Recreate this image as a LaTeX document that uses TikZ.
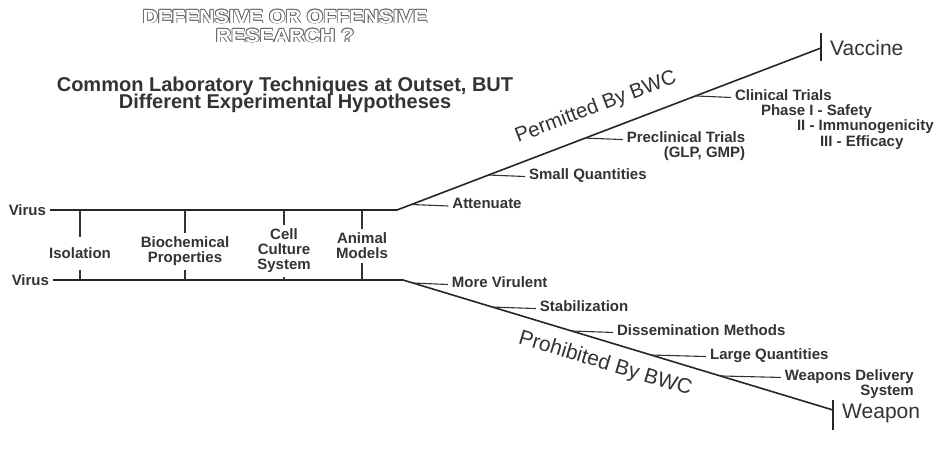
\documentclass[tikz,border=0pt]{standalone}
\usepackage{fontspec}
\setmainfont{Liberation Sans}
\newfontfamily\outlinefont[FakeStretch=1.12]{Liberation Sans Bold}
\usetikzlibrary{positioning,calc}
\lineskiplimit=-20pt
\newcommand\hollowcopy[3]{\rlap{\kern#1\raisebox{#2}{\textcolor{black!60}{#3}}}}
\newcommand\hollow[1]{\hollowcopy{0.9pt}{0pt}{#1}\hollowcopy{-0.9pt}{0pt}{#1}%
  \hollowcopy{0pt}{0.9pt}{#1}\hollowcopy{0pt}{-0.9pt}{#1}%
  \hollowcopy{0.65pt}{0.65pt}{#1}\hollowcopy{-0.65pt}{0.65pt}{#1}%
  \hollowcopy{0.65pt}{-0.65pt}{#1}\hollowcopy{-0.65pt}{-0.65pt}{#1}%
  \textcolor{white}{#1}}
\newcommand\leafstack[2]{\lineskiplimit=0pt\begin{tabular}[t]{@{}#1@{}}#2\end{tabular}}

\begin{document}
\begin{tikzpicture}[
  x=1pt, y=-1pt,
  trunk/.style={draw=black!85, line width=1.6pt},
  tick/.style={draw=black!80, line width=1.1pt},
  lbl/.style={font=\fontsize{15}{15}\selectfont\bfseries, text=black!80, inner sep=1pt, outer sep=3pt},
  leaf/.style={lbl, anchor=mid west, yshift=-1.5pt},
  endlbl/.style={font=\fontsize{21}{21}\selectfont, text=black!80, inner sep=1pt},
  slant/.style={font=\fontsize{20.5}{20.5}\selectfont, text=black!80, inner sep=1pt, sloped},
  title/.style={font=\fontsize{20}{17}\selectfont\bfseries, text=black!80, align=center}
]
\fill[white] (0,0) rectangle (949,459);
\useasboundingbox (0,0) rectangle (949,459);

\node[font=\fontsize{19}{19}\outlinefont, align=center] (head) at (285,26) {\hollow{DEFENSIVE OR OFFENSIVE}\\\hollow{RESEARCH ?}};
\node[title] (sub) at (285,94.5) {Common Laboratory Techniques at Outset, BUT\\Different Experimental Hypotheses};

\node[lbl, anchor=east] (virusA) at (50,210) {Virus};
\node[lbl, anchor=east] (virusB) at (53,280) {Virus};
\coordinate (j1) at (397,210);
\coordinate (j2) at (403,280);
\coordinate (vtip) at (821,48);
\coordinate (wtip) at (833,410);

\draw[trunk] (virusA.east) -- (j1) -- (vtip);
\draw[trunk] (virusB.east) -- (j2) -- (wtip);
\draw[trunk] ([yshift=15pt]vtip) -- ([yshift=-13pt]vtip);
\draw[trunk] ([yshift=10pt]wtip) -- ([yshift=-20pt]wtip);

\node[endlbl, right=8pt of vtip] (vaccine) {Vaccine};
\node[endlbl, right=8pt of wtip, yshift=-3pt] (weapon) {Weapon};

\node[lbl, outer ysep=10pt] (iso) at (80,253) {Isolation};
\node[lbl, align=center] (bio) at (185,251) {Biochemical\\Properties};
\node[lbl, align=center] (cell) at (284,251) {Cell\\Culture\\System};
\node[lbl, align=center] (anim) at (362,245.5) {Animal\\Models};
\foreach \n in {iso,bio,cell,anim}{
  \draw[tick] (\n.north) -- (\n.north |- j1);
  \draw[tick] (\n.south) -- (\n.south |- j2);
}

\path (j1) -- (vtip) node[slant, pos=0.49, above=14pt] (permitted) {Permitted By BWC};
\path (j2) -- (wtip) node[slant, pos=0.485, below=11pt, font=\fontsize{21}{21}\selectfont] (prohibited) {Prohibited By BWC};

\coordinate (att) at ($(j1)!0.034!(vtip)$);
\coordinate (smq) at ($(j1)!0.216!(vtip)$);
\coordinate (prec) at ($(j1)!0.444!(vtip)$);
\coordinate (clin) at ($(j1)!0.704!(vtip)$);
\node[right=37pt of att, leaf] (attenuate) {Attenuate};
\node[right=36.5pt of smq, leaf] (small) {Small Quantities};
\node[right=37.5pt of prec, leaf] (preclin) {\leafstack{r}{Preclinical Trials\\(GLP, GMP)}};
\node[right=35.5pt of clin, leaf] (clinical) {\leafstack{l}{Clinical Trials\\\hspace*{26pt}Phase I - Safety\\\hspace*{62pt}II - Immunogenicity\\\hspace*{85pt}III - Efficacy}};
\draw[tick] (att) -- (attenuate.mid west);
\draw[tick] (smq) -- (small.mid west);
\draw[tick] (prec) -- (preclin.mid west);
\draw[tick] (clin) -- (clinical.mid west);

\coordinate (vir) at ($(j2)!0.023!(wtip)$);
\coordinate (stab) at ($(j2)!0.208!(wtip)$);
\coordinate (diss) at ($(j2)!0.392!(wtip)$);
\coordinate (lgq) at ($(j2)!0.577!(wtip)$);
\coordinate (wds) at ($(j2)!0.738!(wtip)$);
\node[right=35pt of vir, leaf] (virulent) {More Virulent};
\node[right=43.5pt of stab, leaf] (stabil) {Stabilization};
\node[right=41.5pt of diss, leaf] (dissem) {Dissemination Methods};
\node[right=55pt of lgq, leaf] (large) {Large Quantities};
\node[right=60.5pt of wds, leaf] (delivery) {\leafstack{r}{Weapons Delivery\\System}};
\draw[tick] (vir) -- (virulent.mid west);
\draw[tick] (stab) -- (stabil.mid west);
\draw[tick] (diss) -- (dissem.mid west);
\draw[tick] (lgq) -- (large.mid west);
\draw[tick] (wds) -- (delivery.mid west);
\end{tikzpicture}
\end{document}
